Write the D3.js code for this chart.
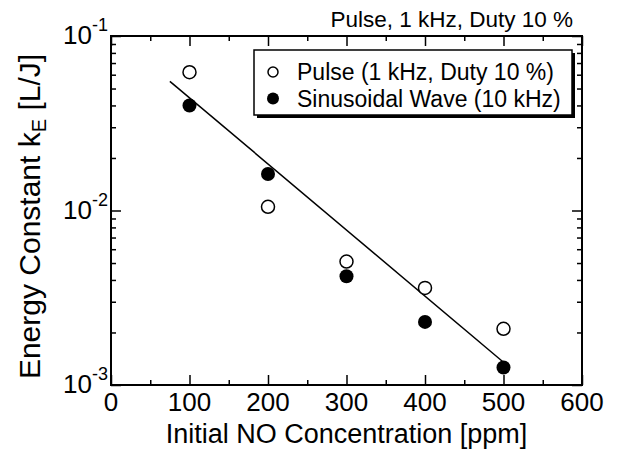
<!DOCTYPE html>
<html><head><meta charset="utf-8">
<script src="https://cdn.jsdelivr.net/npm/d3@7"></script>
<style>
body{margin:0;background:#fff;}
svg{display:block;font-family:"Liberation Sans",Arial,sans-serif;}
</style></head>
<body><svg id="c" width="642" height="457"></svg>
<script>
const concentrations = [100, 200, 300, 400, 500];
const pulseValues = [0.062, 0.0105, 0.0051, 0.0036, 0.0021];
const sineValues = [0.040, 0.0162, 0.0042, 0.0023, 0.00126];
const fitX = [75, 500];
const fitY = [0.055, 0.00135];
const xTicks = [0, 100, 200, 300, 400, 500, 600];
const xMinorTicks = [50, 150, 250, 350, 450, 550];
const yTicks = [1e-3, 1e-2, 1e-1];
const yTickExps = ["-3", "-2", "-1"];
const seriesNames = ["Pulse (1 kHz, Duty 10 %)", "Sinusoidal Wave (10 kHz)"];
const topNote = "Pulse, 1 kHz, Duty 10 %";

const svg = d3.select("#c");
const L = 111, R = 582, T = 36, B = 385;
const x = d3.scaleLinear().domain([0, 600]).range([L, R]);
const y = d3.scaleLog().domain([1e-3, 1e-1]).range([B, T]);

const minorY = [];
for (let d = -3; d < -1; d++) for (let m = 2; m <= 9; m++) minorY.push(m * Math.pow(10, d));

const fsTick = 26;
const axB = d3.axisBottom(x).tickValues(xTicks).tickSize(-10).tickFormat("");
const axT = d3.axisTop(x).tickValues(xTicks).tickSize(-10).tickFormat("");
const axL = d3.axisLeft(y).tickValues(yTicks).tickSize(-10).tickFormat("");
const axR = d3.axisRight(y).tickValues(yTicks).tickSize(-10).tickFormat("");
const mB = d3.axisBottom(x).tickValues(xMinorTicks).tickSize(-5).tickFormat("");
const mT = d3.axisTop(x).tickValues(xMinorTicks).tickSize(-5).tickFormat("");
const mL = d3.axisLeft(y).tickValues(minorY).tickSize(-5).tickFormat("");
const mR = d3.axisRight(y).tickValues(minorY).tickSize(-5).tickFormat("");

function draw(ax, tr) {
  const g = svg.append("g").attr("transform", tr).call(ax);
  g.select(".domain").remove();
  g.selectAll("line").attr("stroke", "#000").attr("stroke-width", 1.5);
}
draw(axB, `translate(0,${B})`); draw(mB, `translate(0,${B})`);
draw(axT, `translate(0,${T})`); draw(mT, `translate(0,${T})`);
draw(axL, `translate(${L},0)`); draw(mL, `translate(${L},0)`);
draw(axR, `translate(${R},0)`); draw(mR, `translate(${R},0)`);

svg.append("rect").attr("x", L).attr("y", T).attr("width", R - L).attr("height", B - T)
  .attr("fill", "none").attr("stroke", "#000").attr("stroke-width", 2);

// x tick labels
svg.append("g").selectAll("text").data(xTicks).join("text")
  .attr("x", d => x(d)).attr("y", B + 26).attr("text-anchor", "middle")
  .attr("font-size", fsTick).text(d => d);

// y tick labels
const yl = svg.append("g").selectAll("text").data(yTicks).join("text")
  .attr("x", L - 3).attr("y", d => y(d) + 8).attr("text-anchor", "end").attr("font-size", fsTick);
yl.append("tspan").text("10");
yl.append("tspan").attr("dy", -13).attr("font-size", 18).text((d, i) => yTickExps[i]);

// titles
svg.append("text").attr("x", (L + R) / 2).attr("y", 443).attr("text-anchor", "middle")
  .attr("font-size", 27).text("Initial NO Concentration [ppm]");
const yt = svg.append("text").attr("transform", `translate(40,${(T + B) / 2 + 6}) rotate(-90)`)
  .attr("text-anchor", "middle").attr("font-size", 30);
yt.append("tspan").text("Energy Constant k");
yt.append("tspan").attr("dy", 6).attr("font-size", 20).text("E");
yt.append("tspan").attr("dy", -6).text(" [L/J]");

svg.append("text").attr("x", 573).attr("y", 27).attr("text-anchor", "end")
  .attr("font-size", 22.5).text(topNote);

// fit line
const line = d3.line().x(d => x(d[0])).y(d => y(d[1]));
svg.append("path").datum(fitX.map((v, i) => [v, fitY[i]])).attr("d", line)
  .attr("fill", "none").attr("stroke", "#000").attr("stroke-width", 1.5);

// points
svg.append("g").selectAll("circle").data(concentrations).join("circle")
  .attr("cx", d => x(d)).attr("cy", (d, i) => y(pulseValues[i])).attr("r", 6.5)
  .attr("fill", "#fff").attr("stroke", "#000").attr("stroke-width", 1.5);
svg.append("g").selectAll("circle").data(concentrations).join("circle")
  .attr("cx", d => x(d)).attr("cy", (d, i) => y(sineValues[i])).attr("r", 7)
  .attr("fill", "#000");

// legend
const lx = 254, ly = 50, lw = 318, lh = 65;
svg.append("rect").attr("x", lx + 3).attr("y", ly + 3).attr("width", lw).attr("height", lh).attr("fill", "#000");
svg.append("rect").attr("x", lx).attr("y", ly).attr("width", lw).attr("height", lh)
  .attr("fill", "#fff").attr("stroke", "#000").attr("stroke-width", 1.5);
const lg = svg.append("g");
lg.append("circle").attr("cx", 273).attr("cy", 72).attr("r", 5).attr("fill", "#fff").attr("stroke", "#000").attr("stroke-width", 1.5);
lg.append("circle").attr("cx", 273).attr("cy", 98.5).attr("r", 6).attr("fill", "#000");
lg.selectAll("text").data(seriesNames).join("text")
  .attr("x", 297).attr("y", (d, i) => 80 + i * 26.5).attr("font-size", 23).text(d => d);
</script></body></html>
